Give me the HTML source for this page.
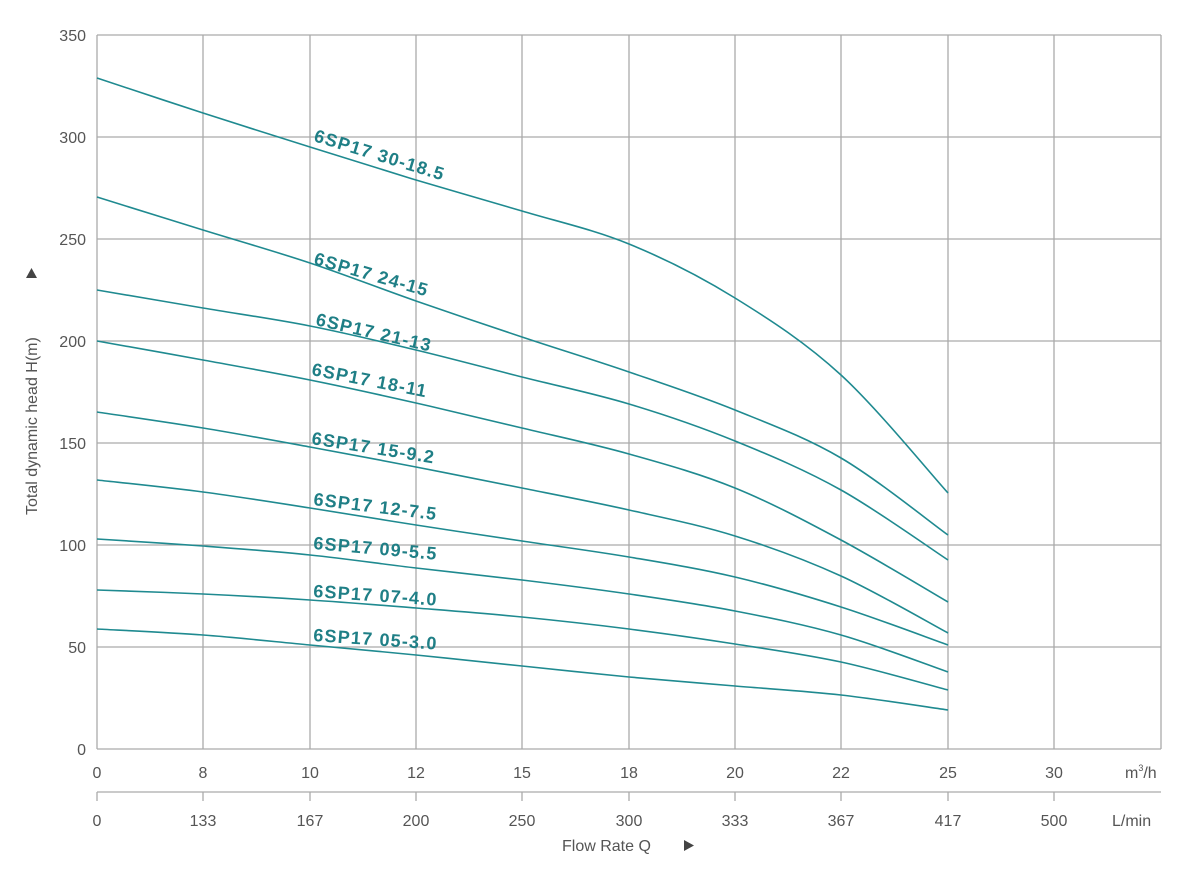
<!DOCTYPE html>
<html><head><meta charset="utf-8"><style>
body{margin:0;background:#fff;}
svg{display:block;font-family:"Liberation Sans",sans-serif;}
.t{fill:#555;font-size:16px;}
.lb{fill:#1f7f86;font-size:18px;font-weight:bold;letter-spacing:1.2px;}
</style></head><body>
<svg id="s" width="1193" height="875" viewBox="0 0 1193 875">
<g id="grid" stroke="#aaa" stroke-width="1.3" fill="none"></g>
<g id="curves" stroke="#1f8a90" stroke-width="1.6" fill="none"></g>
<g id="txt"></g>
<text class="t" x="1125" y="778" font-size="15">m<tspan font-size="9" dy="-7">3</tspan><tspan dy="7">/h</tspan></text>
<text class="t" x="1112" y="826" font-size="15">L/min</text>
<text class="t" x="562" y="851" font-size="15">Flow Rate Q</text>
<path d="M684 840 L694 845.5 L684 851 Z" fill="#444"/>
<text class="t" font-size="15" transform="translate(37,515) rotate(-90)">Total dynamic head H(m)</text>
<path d="M26 278 L31.5 268 L37 278 Z" fill="#444"/>
</svg>
<script>
const NS="http://www.w3.org/2000/svg";
function el(p,t,a,txt){const e=document.createElementNS(NS,t);for(const k in a)e.setAttribute(k,a[k]);if(txt!=null)e.textContent=txt;p.appendChild(e);return e;}
const g=document.getElementById('grid'),tx=document.getElementById('txt'),cv=document.getElementById('curves');
const xs=[97,203,310,416,522,629,735,841,948,1054,1161];
const m=['0','8','10','12','15','18','20','22','25','30'];
const l=['0','133','167','200','250','300','333','367','417','500'];
for(let i=0;i<=7;i++){const y=749-i*102;el(g,'line',{x1:97,x2:1161,y1:y,y2:y});
 el(tx,'text',{class:'t',x:86,y:y+6,'text-anchor':'end'},String(i*50));}
xs.forEach((x,i)=>{el(g,'line',{x1:x,x2:x,y1:35,y2:749});
 if(i<10){el(tx,'text',{class:'t',x:x,y:778,'text-anchor':'middle'},m[i]);
 el(g,'line',{x1:x,x2:x,y1:792,y2:801});
 el(tx,'text',{class:'t',x:x,y:826,'text-anchor':'middle'},l[i]);}});
el(g,'line',{x1:97,x2:1161,y1:792,y2:792});
const C=[[78,113,147,180,211,244,298,375,493],[197,230,263,301,337,372,410,458,535],[290,308,326,350,377,404,441,490,560],[341,360,380,403,428,454,488,540,602],[412,428,447,467,488,510,536,576,633],[480,492,508,525,541,557,577,607,645],[539,546,555,568,580,594,611,635,672],[590,594,600,608,617,629,644,662,690],[629,635,645,655,666,677,686,695,710]];
C.forEach(ys=>{const P=ys.map((y,i)=>[xs[i],y]);let d='M'+P[0];for(let i=0;i<P.length-1;i++){const p0=P[Math.max(0,i-1)],p1=P[i],p2=P[i+1],p3=P[Math.min(P.length-1,i+2)];
 d+=` C${p1[0]+(p2[0]-p0[0])/6},${p1[1]+(p2[1]-p0[1])/6} ${p2[0]-(p3[0]-p1[0])/6},${p2[1]-(p3[1]-p1[1])/6} ${p2[0]},${p2[1]}`;}
 el(cv,'path',{d:d});});
const L=[['6SP17 30-18.5',313,141,17],['6SP17 24-15',313,264,16],['6SP17 21-13',315,325,13],['6SP17 18-11',311,375,11],['6SP17 15-9.2',311,444,9],['6SP17 12-7.5',313,505,7],['6SP17 09-5.5',313,549,5],['6SP17 07-4.0',313,597,4],['6SP17 05-3.0',313,641,4]];
L.forEach(a=>el(tx,'text',{class:'lb',transform:`translate(${a[1]},${a[2]}) rotate(${a[3]})`},a[0]));
</script>
</body></html>
